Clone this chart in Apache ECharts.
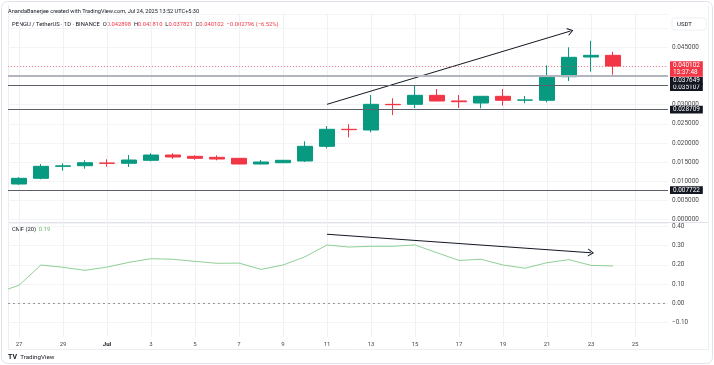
<!DOCTYPE html>
<html><head><meta charset="utf-8">
<script src="https://cdn.jsdelivr.net/npm/echarts@6/dist/echarts.min.js"></script>
<style>html,body{margin:0;padding:0;background:#fff}#c{width:714px;height:365px}</style>
</head><body><div id="c"></div>
<script>
// ---- data ----
const days = ['27','28','29','30','Jul','2','3','4','5','6','7','8','9','10','11','12','13','14','15','16','17','18','19','20','21','22','23','24','25','26'];
const opens  = [0.00932,0.0108,0.01393,0.01409,0.0148,0.01472,0.0155,0.01688,0.01654,0.01628,0.01602,0.01454,0.01487,0.01532,0.01915,0.02359,0.02341,0.0301,0.03011,0.03246,0.0310,0.03045,0.0322,0.0312,0.03116,0.03732,0.04246,0.042898];
const closes = [0.0108,0.01393,0.01405,0.01487,0.0147,0.01558,0.01688,0.01636,0.01602,0.01584,0.01454,0.01506,0.0155,0.01915,0.02359,0.0235,0.03011,0.03001,0.03246,0.03098,0.03079,0.0322,0.03116,0.03124,0.03716,0.04238,0.042898,0.040102];
const lows   = [0.0091,0.01054,0.01279,0.01331,0.01383,0.01375,0.01524,0.01584,0.01566,0.0155,0.0145,0.01446,0.01478,0.01506,0.01863,0.0215,0.02281,0.02732,0.02915,0.0309,0.02915,0.02907,0.02975,0.03038,0.03064,0.0362,0.03862,0.037821];
const highs  = [0.0111,0.01454,0.01472,0.0155,0.01576,0.01688,0.01733,0.01733,0.0168,0.0168,0.0161,0.01558,0.01558,0.02046,0.02445,0.0249,0.03254,0.03168,0.03497,0.03411,0.03254,0.0323,0.03411,0.03228,0.04029,0.04499,0.04671,0.04381];
const cmfLeftEdge = 0.073;
const cmfValues = [0.093,0.199,0.187,0.171,0.188,0.213,0.232,0.229,0.218,0.208,0.209,0.176,0.199,0.242,0.304,0.293,0.297,0.297,0.304,0.263,0.223,0.229,0.199,0.182,0.211,0.227,0.197,0.194];
const lastPrice = 0.040102;
const lastTime = '13:37:48';
const levels = [0.037649, 0.035107, 0.028709, 0.007722];
const coveredTicks = [0.035, 0.040];
const priceArrow = [[14, 0.03011], [25.07, 0.04924]];
const cmfArrow = [[14, 0.36], [26, 0.263]];

// ---- chart ----
const FONT = 'Roboto, "Liberation Sans", sans-serif';
const GREEN = '#089981', RED = '#f23645';
const ARROW = 'path://M5,0L10,10L8.6,10L5,2.8L1.4,10L0,10Z';
const L = 8, R = 46;

function levelLine(v, style, offY) {
  return {
    yAxis: v, lineStyle: style, symbol: 'none',
    label: { show: true, position: 'end', distance: 2, formatter: v.toFixed(6),
      color: '#fff', backgroundColor: '#131722', padding: [0.5, 3], fontSize: 6.4, lineHeight: 6.8,
      fontFamily: FONT, offset: [0, offY] }
  };
}

const candleData = opens.map((o, i) => [o, closes[i], lows[i], highs[i]]);
const cmfData = [[-0.5, cmfLeftEdge]].concat(cmfValues.map((v, i) => [i, v]));

const option = {
  animation: false,
  backgroundColor: '#fff',
  grid: [
    { left: L, right: R, top: 14, bottom: 28 },
    { left: L, right: R, top: 14.7, bottom: 145.3 },
    { left: L, right: R, top: 222.8, bottom: 42.9 }
  ],
  xAxis: [
    { gridIndex: 0, type: 'category', data: days, boundaryGap: true,
      axisLine: { show: false }, axisTick: { show: false },
      axisLabel: { interval: 1, margin: 4, fontSize: 6, color: '#4a4a4a', fontFamily: FONT,
        formatter: v => v === 'Jul' ? '{b|Jul}' : v,
        rich: { b: { fontWeight: 'bold', color: '#131722', fontSize: 6, fontFamily: FONT } } },
      splitLine: { show: true, interval: 1, alignWithLabel: true, lineStyle: { color: '#f0f1f3', width: 1 } } },
    { gridIndex: 1, type: 'category', data: days, boundaryGap: true, show: false },
    { gridIndex: 2, type: 'value', min: -0.5, max: 29.5, show: false },
    { gridIndex: 1, type: 'value', min: -0.5, max: 29.5, show: false }
  ],
  yAxis: [
    { gridIndex: 0, type: 'value', show: false },
    { gridIndex: 1, type: 'value', position: 'right', min: 0, max: 0.0535, interval: 0.005, z: 0,
      axisLine: { show: false }, axisTick: { show: false },
      axisLabel: { showMaxLabel: false, margin: 4, fontSize: 6.4, color: '#4a4a4a', fontFamily: FONT,
        formatter: v => coveredTicks.some(c => Math.abs(c - v) < 1e-9) ? '' : v.toFixed(6) },
      splitLine: { lineStyle: { color: '#f3f4f6' } } },
    { gridIndex: 2, type: 'value', position: 'right', min: -0.1, max: 0.42, interval: 0.1,
      axisLine: { show: false }, axisTick: { show: false },
      axisLabel: { showMaxLabel: false, margin: 4, fontSize: 6.4, color: '#4a4a4a', fontFamily: FONT,
        formatter: v => (v < -1e-9 ? '\u2212' : '') + Math.abs(v).toFixed(2) },
      splitLine: { lineStyle: { color: '#f3f4f6' } } }
  ],
  series: [
    { type: 'candlestick', xAxisIndex: 1, yAxisIndex: 1, barWidth: 16, data: candleData,
      itemStyle: { color: GREEN, color0: RED, borderColor: GREEN, borderColor0: RED, borderWidth: 1 },
      markLine: { silent: true, symbol: 'none', animation: false, precision: 8, zlevel: 1, z: 20, data: [
        levelLine(levels[3], { color: '#5d606b', width: 1.2, type: 'solid' }, 0),
        levelLine(levels[2], { color: '#5d606b', width: 1.2, type: 'solid' }, 0),
        levelLine(levels[1], { color: '#5d606b', width: 1.2, type: 'solid' }, 1.8),
        levelLine(levels[0], { color: '#b2b5be', width: 2.2, type: 'solid' }, 5.4),
        { yAxis: lastPrice, symbol: 'none', lineStyle: { color: 'rgba(242,54,69,0.6)', width: 1, type: [1, 2] },
          label: { show: true, position: 'end', distance: 2, formatter: lastPrice.toFixed(6) + '\n' + lastTime,
            color: '#fff', backgroundColor: RED, padding: [0.8, 3], fontSize: 6.4, lineHeight: 7,
            fontFamily: FONT, offset: [0, 3] } }
      ] } },
    { type: 'line', xAxisIndex: 3, yAxisIndex: 1, data: [], silent: true,
      markLine: { silent: true, symbol: 'none', animation: false, precision: 8, label: { show: false },
        data: [[
          { coord: priceArrow[0], symbol: 'none' },
          { coord: priceArrow[1], symbol: ARROW, symbolSize: [8, 6] }
        ]],
        lineStyle: { color: '#131722', width: 1, type: 'solid' } } },
    { type: 'line', xAxisIndex: 2, yAxisIndex: 2, data: cmfData, symbol: 'none', silent: true,
      lineStyle: { color: '#8fd095', width: 1 },
      markLine: { silent: true, symbol: 'none', animation: false, precision: 8, label: { show: false },
        data: [
          { yAxis: 0, lineStyle: { color: '#9598a1', width: 1, type: [2, 3] } },
          [ { coord: cmfArrow[0], symbol: 'none', lineStyle: { color: '#131722', width: 1, type: 'solid' } },
            { coord: cmfArrow[1], symbol: ARROW, symbolSize: [8, 6] } ]
        ] } }
  ],
  graphic: [
    { type: 'rect', silent: true, shape: { x: 1.5, y: 1.5, width: 711, height: 362, r: 6 },
      style: { fill: 'none', stroke: '#e0e3eb', lineWidth: 1 } },
    { type: 'line', silent: true, shape: { x1: 8, y1: 222.5, x2: 709, y2: 222.5 }, style: { stroke: '#e0e3eb', lineWidth: 1 } },
    { type: 'line', silent: true, shape: { x1: 8, y1: 349.5, x2: 709, y2: 349.5 }, style: { stroke: '#eceef2', lineWidth: 1 } },
    { type: 'line', silent: true, shape: { x1: 8.5, y1: 5, x2: 8.5, y2: 349 }, style: { stroke: '#eceef2', lineWidth: 1 } },
    { type: 'line', silent: true, shape: { x1: 708.5, y1: 5, x2: 708.5, y2: 349 }, style: { stroke: '#eceef2', lineWidth: 1 } },
    { type: 'text', silent: true, style: { x: 8, y: 12, text: 'AnandaBanerjee created with TradingView.com, Jul 24, 2025 13:52 UTC+5:30',
      fontSize: 5.6, fontFamily: FONT, fill: '#131722', verticalAlign: 'middle' } },
    { type: 'text', silent: true, style: { x: 12, y: 25,
      text: '{d|PENGU / TetherUS · 1D · BINANCE  O}{r|0.042898}{d|  H}{r|0.043810}{d|  L}{r|0.037821}{d|  C}{r|0.040102}{r|  \u22120.002796 (\u22126.52%)}',
      verticalAlign: 'middle',
      rich: { d: { fontSize: 5.8, fontFamily: FONT, fill: '#131722' }, r: { fontSize: 5.8, fontFamily: FONT, fill: RED } } } },
    { type: 'rect', silent: true, z: 100, shape: { x: 672, y: 18, width: 34, height: 12, r: 1.5 },
      style: { fill: '#fff', stroke: '#eceef2', lineWidth: 1 } },
    { type: 'text', silent: true, z: 101, style: { x: 677, y: 24, text: 'USDT', fontSize: 6, fontFamily: FONT, fill: '#131722', verticalAlign: 'middle' } },
    { type: 'text', silent: true, style: { x: 12, y: 230,
      text: '{d|CMF (20)}{g|  0.19}', verticalAlign: 'middle',
      rich: { d: { fontSize: 5.8, fontFamily: FONT, fill: '#131722' }, g: { fontSize: 5.8, fontFamily: FONT, fill: '#66bb6a' } } } },
    { type: 'text', silent: true, style: { x: 8, y: 357, text: '{b|TV} {n|TradingView}', verticalAlign: 'middle',
      rich: { b: { fontSize: 7, fontWeight: 'bold', fontFamily: FONT, fill: '#131722' }, n: { fontSize: 6.2, fontFamily: FONT, fill: '#131722' } } } }
  ]
};

const chart = echarts.init(document.getElementById('c'), null, { renderer: 'canvas' });
chart.setOption(option);
</script>
</body></html>
